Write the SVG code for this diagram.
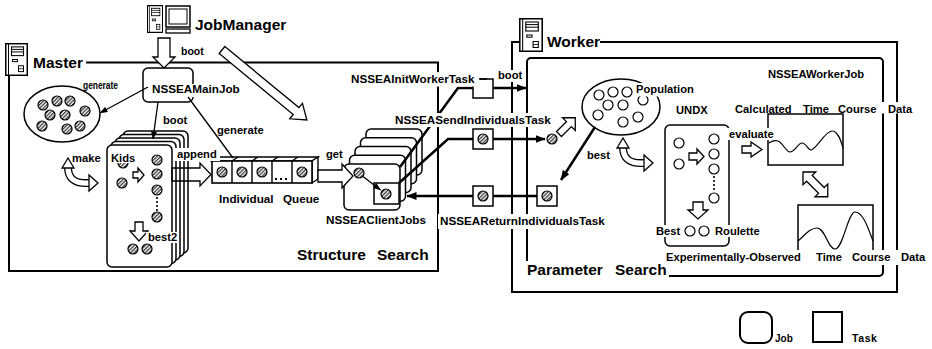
<svg xmlns="http://www.w3.org/2000/svg" xmlns:xlink="http://www.w3.org/1999/xlink" width="932" height="349" viewBox="0 0 932 349">
<style>
  .t { font-family: "Liberation Sans", Arial, Helvetica, sans-serif; font-weight: bold; fill: #000; }
  .big { font-size: 15.5px; }
  .mid { font-size: 11.7px; }
  .sm { font-size: 11.2px; }
  .bg { fill: #fff; }
  .frame { fill: none; stroke: #000; stroke-width: 2; }
  .card { fill: #fff; stroke: #000; stroke-width: 1.5; }
  .hc { fill: url(#hatch); stroke: #000; stroke-width: 1.2; }
  .oc { fill: #fff; stroke: #000; stroke-width: 1.2; }
  .conn { fill: none; stroke: #000; stroke-width: 2.5; }
  .thin { fill: none; stroke: #000; stroke-width: 1.3; }
  .harrow { fill: #fff; stroke: #000; stroke-width: 1.3; stroke-linejoin: miter; }
  .task { fill: #fff; stroke: #000; stroke-width: 1.5; }
  .dots { fill: none; stroke: #000; stroke-width: 1.6; stroke-dasharray: 2 2; }
  .wave { fill: none; stroke: #000; stroke-width: 1.2; }
</style>
<defs>
  <pattern id="hatch" patternUnits="userSpaceOnUse" width="2.6" height="2.6" patternTransform="rotate(45)">
    <rect width="2.6" height="2.6" fill="#fff"/>
    <line x1="0.7" y1="0" x2="0.7" y2="2.6" stroke="#000" stroke-width="1"/>
  </pattern>
  <marker id="ah" markerUnits="userSpaceOnUse" markerWidth="10" markerHeight="8" refX="9.5" refY="4" orient="auto">
    <path d="M0,0 L10,4 L0,8 z" fill="#000"/>
  </marker>
  <marker id="ahs" markerUnits="userSpaceOnUse" markerWidth="8" markerHeight="6" refX="7.5" refY="3" orient="auto">
    <path d="M0,0 L8,3 L0,6 z" fill="#000"/>
  </marker>
  <symbol id="tower" viewBox="0 0 23 34" preserveAspectRatio="none">
    <rect x="0.75" y="0.75" width="21.5" height="32.5" fill="#fff" stroke="#000" stroke-width="1.5"/>
    <line x1="3.5" y1="1" x2="3.5" y2="33" stroke="#000" stroke-width="1"/>
    <rect x="6.5" y="4" width="12" height="9" fill="none" stroke="#000" stroke-width="1.1"/>
    <line x1="6.5" y1="6.6" x2="18.5" y2="6.6" stroke="#000" stroke-width="1"/>
    <line x1="6.5" y1="9.2" x2="18.5" y2="9.2" stroke="#000" stroke-width="1"/>
    <rect x="7.5" y="17" width="5" height="2.2" fill="none" stroke="#000" stroke-width="1"/>
    <rect x="13.5" y="23.5" width="5" height="6" fill="none" stroke="#000" stroke-width="1"/>
    <line x1="13.5" y1="26.5" x2="18.5" y2="26.5" stroke="#000" stroke-width="0.8"/>
  </symbol>
  <!-- curled double-headed hollow arrow -->
  <g id="curl">
    <path d="M6,9 C6,20 12,26 27,25" fill="none" stroke="#000" stroke-width="8"/>
    <path d="M6,9 C6,20 12,26 27,25" fill="none" stroke="#fff" stroke-width="5.4"/>
    <polygon class="harrow" points="6,0 0,10 12,10"/>
    <polygon class="harrow" points="36,25 27,17 27,33"/>
  </g>
</defs>

<rect width="932" height="349" fill="#fff"/>

<!-- Master frame -->
<g id="master">
  <polyline class="frame" points="86,62.5 438,62.5 438,271 9,271 9,76"/>
  <use xlink:href="#tower" href="#tower" x="5" y="43" width="23" height="33"/>
  <text class="t big" x="33" y="68">Master</text>
  <text class="t big" x="297" y="260">Structure</text>
  <text class="t big" x="377" y="260">Search</text>
</g>

<!-- Worker frame -->
<g id="worker">
  <polyline class="frame" points="519,42 512,42 512,292 897,292 897,42 600,42"/>
  <use xlink:href="#tower" href="#tower" x="519" y="18" width="24" height="34"/>
  <text class="t big" x="547" y="47">Worker</text>
</g>

<!-- NSSEAWorkerJob frame -->
<g id="workerjob">
  <rect class="frame" x="527" y="58" width="356" height="218" rx="4"/>
  <text class="t sm" x="768" y="78">NSSEAWorkerJob</text>
  <rect class="bg" x="525" y="261" width="144" height="18"/>
  <text class="t big" x="527" y="275">Parameter</text>
  <text class="t big" x="615" y="275">Search</text>
</g>

<!-- JobManager -->
<g id="jobmanager">
  <use xlink:href="#tower" href="#tower" x="147" y="5" width="16" height="28"/>
  <rect x="166" y="6" width="24" height="21" fill="#fff" stroke="#000" stroke-width="1.5"/>
  <rect x="169" y="9" width="18" height="15" fill="none" stroke="#000" stroke-width="1"/>
  <rect x="166" y="29" width="24" height="4" fill="#fff" stroke="#000" stroke-width="1.3"/>
  <text class="t big" x="195" y="30">JobManager</text>
</g>

<!-- individual pool in master -->
<g id="master-pool">
  <ellipse cx="62" cy="114" rx="38" ry="28" fill="#fff" stroke="#000" stroke-width="1.5"/>
  <circle class="hc" cx="43" cy="105" r="5"/>
  <circle class="hc" cx="57" cy="101" r="5"/>
  <circle class="hc" cx="70" cy="101" r="5"/>
  <circle class="hc" cx="50" cy="115" r="5"/>
  <circle class="hc" cx="65" cy="115" r="5"/>
  <circle class="hc" cx="85" cy="111" r="5"/>
  <circle class="hc" cx="42" cy="126" r="5"/>
  <circle class="hc" cx="67" cy="129" r="5"/>
  <circle class="hc" cx="80" cy="126" r="5"/>
</g>

<!-- NSSEAMainJob -->
<g id="mainjob">
  <rect class="card" x="143" y="68" width="50" height="34" rx="5"/>
  <rect class="bg" x="150" y="84" width="92" height="13"/>
  <text class="t mid" x="152" y="93">NSSEAMainJob</text>
</g>

<!-- Kids jobs stack -->
<g id="kids">
  <rect class="card" x="123" y="131" width="65" height="122" rx="5"/>
  <rect class="card" x="119" y="134.5" width="65" height="122" rx="5"/>
  <rect class="card" x="115" y="138" width="65" height="122" rx="5"/>
  <rect class="card" x="111" y="141.5" width="65" height="122" rx="5"/>
  <rect class="card" x="107" y="145" width="65" height="122" rx="5"/>
  <circle class="hc" cx="123" cy="163" r="5"/>
  <circle class="hc" cx="122" cy="183" r="5"/>
  <polygon class="harrow" points="133,172 138,172 138,168 144,175 138,182 138,178 133,178"/>
  <circle class="hc" cx="157" cy="160" r="5"/>
  <circle class="hc" cx="157" cy="174" r="5"/>
  <circle class="hc" cx="157" cy="190" r="5"/>
  <line class="dots" x1="157" y1="197" x2="157" y2="211"/>
  <circle class="hc" cx="157" cy="217" r="5"/>
  <polygon class="harrow" points="135,222 143,222 143,231 148,231 139,241 130,231 135,231"/>
  <circle class="hc" cx="133" cy="249" r="5"/>
  <circle class="hc" cx="147" cy="249" r="5"/>
  <rect class="bg" x="109" y="152" width="26" height="11"/>
  <text class="t sm" x="111" y="162">Kids</text>
  <rect class="bg" x="146" y="232" width="32" height="11"/>
  <text class="t sm" x="148" y="241">best2</text>
</g>

<!-- Individual Queue -->
<g id="queue">
  <polygon points="212,161 218,157 318,157 312,161" fill="#fff" stroke="#000" stroke-width="1.4"/>
  <polygon points="312,161 318,157 318,179 312,183" fill="#fff" stroke="#000" stroke-width="1.4"/>
  <rect x="212" y="161" width="100" height="22" fill="#fff" stroke="#000" stroke-width="1.6"/>
  <path d="M232,161 V183 M252,161 V183 M272,161 V183 M292,161 V183 M232,161 L238,157 M252,161 L258,157 M272,161 L278,157 M292,161 L298,157" fill="none" stroke="#000" stroke-width="1.4"/>
  <circle class="hc" cx="222" cy="172" r="5"/>
  <circle class="hc" cx="242" cy="172" r="5"/>
  <circle class="hc" cx="262" cy="172" r="5"/>
  <rect x="275" y="178" width="2" height="2"/>
  <rect x="280" y="178" width="2" height="2"/>
  <rect x="285" y="178" width="2" height="2"/>
  <circle class="hc" cx="302" cy="172" r="5"/>
  <text class="t mid" x="219" y="203">Individual</text>
  <text class="t mid" x="283" y="203">Queue</text>
</g>

<!-- NSSEAClientJobs stack -->
<g id="clientjobs">
  <rect class="card" x="366" y="129" width="56" height="46" rx="5"/>
  <rect class="card" x="360.5" y="137.75" width="56" height="46" rx="5"/>
  <rect class="card" x="355" y="146.5" width="56" height="46" rx="5"/>
  <rect class="card" x="349.5" y="155.25" width="56" height="46" rx="5"/>
  <rect class="card" x="344" y="164" width="56" height="46" rx="5"/>
  <circle class="hc" cx="359" cy="173" r="5"/>
  <rect class="task" x="374" y="183" width="25" height="21"/>
  <circle class="hc" cx="386" cy="194" r="5"/>
  <line class="thin" x1="363" y1="176.5" x2="380.5" y2="190" marker-end="url(#ahs)"/>
  <text class="t mid" x="326" y="224">NSSEAClientJobs</text>
</g>

<!-- population in worker -->
<g id="population">
  <ellipse cx="621" cy="107" rx="39" ry="28" fill="#fff" stroke="#000" stroke-width="1.5"/>
  <circle class="oc" cx="599" cy="95" r="5"/>
  <circle class="oc" cx="613" cy="92" r="5"/>
  <circle class="oc" cx="627" cy="92" r="5"/>
  <circle class="oc" cx="608" cy="105" r="5"/>
  <circle class="oc" cx="623" cy="105" r="5"/>
  <circle class="oc" cx="643" cy="100" r="5"/>
  <circle class="oc" cx="598" cy="115" r="5"/>
  <circle class="oc" cx="623" cy="122" r="5"/>
  <circle class="oc" cx="638" cy="117" r="5"/>
  <rect class="bg" x="634" y="83" width="63" height="13.5"/>
  <text class="t sm" x="636" y="93">Population</text>
</g>

<!-- UNDX -->
<g id="undx">
  <text class="t sm" x="676" y="114">UNDX</text>
  <rect x="665" y="125" width="64" height="121" rx="5" fill="none" stroke="#000" stroke-width="1.5"/>
  <circle class="oc" cx="679" cy="143" r="5"/>
  <circle class="oc" cx="679" cy="164" r="5"/>
  <polygon class="harrow" points="689,153 697,153 697,149 704,156.5 697,164 697,160 689,160"/>
  <circle class="oc" cx="714" cy="139" r="5"/>
  <circle class="oc" cx="714" cy="154" r="5"/>
  <circle class="oc" cx="714" cy="169" r="5"/>
  <line class="dots" x1="714" y1="176" x2="714" y2="191"/>
  <circle class="oc" cx="714" cy="198" r="5"/>
  <polygon class="harrow" points="693,202 703,202 703,210 708,210 698,219 688,210 693,210"/>
  <circle class="oc" cx="690" cy="231" r="5"/>
  <circle class="oc" cx="704" cy="231" r="5"/>
  <rect class="bg" x="654" y="225" width="30" height="12"/>
  <text class="t sm" x="656" y="235">Best</text>
  <rect class="bg" x="713" y="225" width="50" height="12"/>
  <text class="t sm" x="715" y="235">Roulette</text>
</g>

<!-- calculated time course -->
<g id="calculated">
  <rect class="bg" x="733" y="102" width="182" height="11.5"/>
  <text class="t sm" x="735" y="113">Calculated</text>
  <text class="t sm" x="803" y="113">Time</text>
  <text class="t sm" x="838" y="113">Course</text>
  <text class="t sm" x="888" y="113">Data</text>
  <rect x="768" y="114" width="75" height="51" fill="none" stroke="#000" stroke-width="1.5"/>
  <path class="wave" d="M769,143 C772,141 775,140 778,141 C783,143 786,152 790,152 C795,152 798,143 802,143 C806,143 808,150 811,150 C816,150 825,131 832,131 C838,131 841,141 843,148"/>
</g>

<!-- observed time course -->
<g id="observed">
  <rect x="798" y="205" width="75" height="55" fill="none" stroke="#000" stroke-width="1.5"/>
  <path class="wave" d="M798,241 C805,235 810,228 817,228 C825,228 828,249 835,249 C843,249 848,212 855,212 C863,212 868,228 873,241"/>
  <rect class="bg" x="664" y="250" width="263" height="15"/>
  <text class="t sm" x="666" y="261">Experimentally-Observed</text>
  <text class="t sm" x="816" y="261">Time</text>
  <text class="t sm" x="852" y="261">Course</text>
  <text class="t sm" x="901" y="261">Data</text>
</g>

<!-- connectors -->
<g id="connectors">
  <polygon class="harrow" points="158,38 170,38 170,57 175,57 164,68 153,57 158,57"/>
  <polygon class="harrow" transform="translate(222,50) rotate(39.5)" points="0,-4.5 96,-4.5 96,-10 110,0 96,10 96,4.5 0,4.5"/>
  <line class="thin" x1="148" y1="87" x2="100" y2="113" marker-end="url(#ahs)"/>
  <line class="thin" x1="158" y1="102" x2="153" y2="139" marker-end="url(#ahs)"/>
  <line class="thin" x1="188" y1="97" x2="233" y2="158"/>
  <polygon points="172,168 200,168 200,163 211,174.5 200,186 200,181 172,181" fill="none" stroke="#000" stroke-width="1.3"/>
  <polygon class="harrow" points="318,170 342,170 342,164 353,176 342,188 342,182 318,182"/>
  <use xlink:href="#curl" href="#curl" x="62" y="158"/>
  <use xlink:href="#curl" href="#curl" x="617" y="138"/>
  <polyline class="conn" points="400,167 458,88 526,88" marker-end="url(#ah)"/>
  <polyline class="conn" points="399,183 448,139 545,139" marker-end="url(#ah)"/>
  <line class="conn" x1="537" y1="196" x2="407" y2="196" marker-end="url(#ah)"/>
  <line class="conn" x1="595" y1="127" x2="561" y2="180" marker-end="url(#ah)"/>
  <polygon class="harrow" transform="translate(559,134) rotate(-45)" points="0,-3.5 14,-3.5 14,-9 23,0 14,9 14,3.5 0,3.5"/>
  <polygon class="harrow" points="742,146 751,146 751,142 762,149.5 751,157 751,153 742,153"/>
  <polygon class="harrow" transform="translate(803,172) rotate(45)" points="0,0 9,-9 9,-4 26,-4 26,-9 35,0 26,9 26,4 9,4 9,9"/>
</g>

<!-- tasks on the links -->
<g id="task-init">
  <rect class="task" x="473" y="79" width="20" height="19"/>
</g>
<g id="task-send">
  <rect class="task" x="473" y="129" width="20" height="20"/>
  <circle class="hc" cx="483" cy="139" r="5"/>
</g>
<g id="task-return">
  <rect class="task" x="473" y="186" width="20" height="20"/>
  <circle class="hc" cx="483" cy="196" r="5"/>
</g>
<g id="task-return-worker">
  <rect class="task" x="537" y="186" width="20" height="20"/>
  <circle class="hc" cx="547" cy="196" r="5"/>
</g>
<g id="sent-individual">
  <circle class="hc" cx="552" cy="139" r="5"/>
</g>

<!-- link labels -->
<g id="link-labels">
  <text class="t" font-size="10.5" x="181" y="55">boot</text>
  <text class="t" font-size="10" x="83" y="89" textLength="35" lengthAdjust="spacingAndGlyphs">generate</text>
  <text class="t sm" x="163" y="124">boot</text>
  <text class="t sm" x="217" y="134">generate</text>
  <text class="t sm" x="72" y="162">make</text>
  <rect class="bg" x="175" y="148" width="45" height="13"/>
  <text class="t sm" x="177" y="158">append</text>
  <text class="t sm" x="326" y="158">get</text>
  <rect class="bg" x="348" y="72" width="131" height="14.5"/>
  <text class="t mid" x="351" y="83">NSSEAInitWorkerTask</text>
  <line x1="480" y1="79" x2="487" y2="79" stroke="#000" stroke-width="1.5"/>
  <rect class="bg" x="496" y="70" width="29" height="12"/>
  <text class="t sm" x="498" y="79">boot</text>
  <rect class="bg" x="393" y="113" width="163" height="14"/>
  <text class="t mid" x="395" y="124">NSSEASendIndividualsTask</text>
  <rect class="bg" x="438" y="214" width="170" height="15"/>
  <text class="t mid" x="440" y="225">NSSEAReturnIndividualsTask</text>
  <text class="t sm" x="587" y="159">best</text>
  <rect class="bg" x="727" y="128" width="52" height="12"/>
  <text class="t sm" x="729" y="138">evaluate</text>
</g>

<!-- legend -->
<g id="legend-job">
  <rect x="740" y="312" width="32" height="31" rx="8" fill="#fff" stroke="#000" stroke-width="2"/>
  <text class="t" font-size="10" x="775" y="342">Job</text>
</g>
<g id="legend-task">
  <rect x="813" y="312" width="29" height="30" fill="#fff" stroke="#000" stroke-width="2"/>
  <text class="t" font-size="10.5" x="852" y="342" letter-spacing="0.6">Task</text>
</g>
</svg>
